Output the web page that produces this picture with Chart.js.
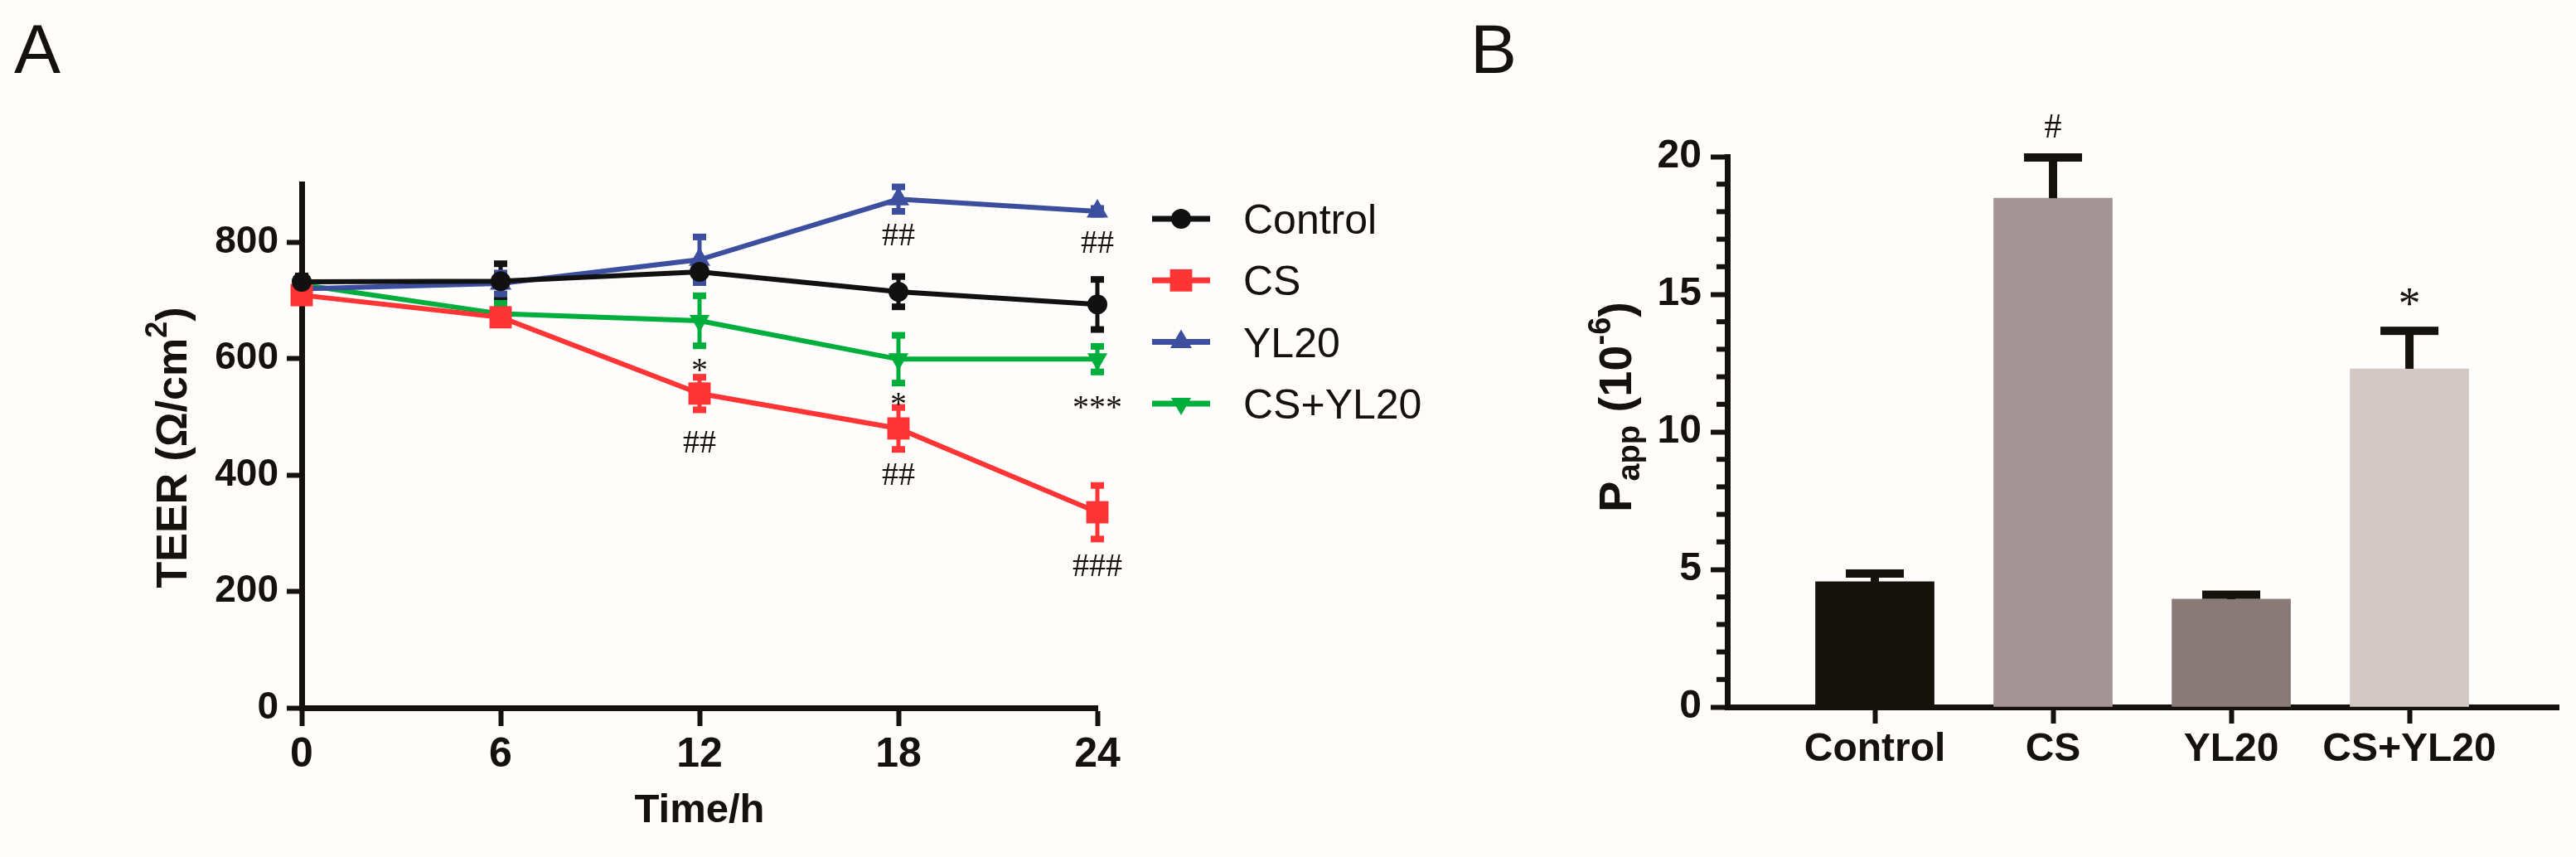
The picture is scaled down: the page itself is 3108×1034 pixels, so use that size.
<!DOCTYPE html>
<html>
<head>
<meta charset="utf-8">
<title>TEER and Papp</title>
<script src="https://cdn.jsdelivr.net/npm/chart.js@4.4.1/dist/chart.umd.min.js"></script>
<style>
  html, body { margin: 0; padding: 0; background: #fefdfc; }
  #wrap { position: relative; width: 3108px; height: 1034px; }
  canvas { position: absolute; top: 0; }
  #chartA { left: 0; }
  #chartB { left: 1700px; }
</style>
</head>
<body>
<div id="wrap">
  <canvas id="chartA" width="1760" height="1034"></canvas>
  <canvas id="chartB" width="1408" height="1034"></canvas>
</div>
<script>
// ---- panel A: TEER over time ----
const timeLabels = ['0', '6', '12', '18', '24'];
const seriesNames = ['Control', 'CS', 'YL20', 'CS+YL20'];
const controlTeer = [732, 733, 749, 715, 693];
const controlSem = [10, 30, 18, 26, 43];
const csTeer = [709, 671, 540, 480, 336];
const csSem = [8, 8, 28, 36, 46];
const yl20Teer = [720, 729, 770, 874, 853];
const yl20Sem = [6, 18, 39, 21, 5];
const csYl20Teer = [727, 677, 665, 599, 599];
const csYl20Sem = [8, 18, 43, 41, 22];
const teerTicks = [0, 200, 400, 600, 800];
const teerMax = 900;
// significance marks (time index, TEER value the mark sits at)
const marksA = [
  { x: 3, y: 813, text: '##' },
  { x: 4, y: 801, text: '##' },
  { x: 2, y: 589, text: '*' },
  { x: 3, y: 530, text: '*' },
  { x: 4, y: 525, text: '***' },
  { x: 2, y: 457, text: '##' },
  { x: 3, y: 401, text: '##' },
  { x: 4, y: 245, text: '###' }
];

// ---- panel B: Papp ----
const groups = ['Control', 'CS', 'YL20', 'CS+YL20'];
const papp = [4.55, 18.49, 3.92, 12.29];
const pappSem = [0.3, 1.48, 0.16, 1.38];
const pappTicks = [0, 5, 10, 15, 20];
const pappMinor = [1, 2, 3, 4, 6, 7, 8, 9, 11, 12, 13, 14, 16, 17, 18, 19];
const marksB = [
  { x: 1, y: 21.1, text: '#' },
  { x: 3, y: 14.9, text: '*' }
];

const INK = '#15110c';
const SANS = '"Liberation Sans", Arial, Helvetica, sans-serif';
const SERIF = '"Liberation Serif", "Times New Roman", serif';
Chart.defaults.font.family = SANS;
Chart.defaults.color = INK;

// fill text so the glyphs are vertically centred on cy
function textMid(ctx, str, x, cy) {
  const m = ctx.measureText(str);
  ctx.fillText(str, x, cy + (m.actualBoundingBoxAscent - m.actualBoundingBoxDescent) / 2);
}

// runs = [text, size, baseline shift]
function runsWidth(ctx, runs, weight) {
  let w = 0;
  runs.forEach(r => {
    ctx.font = weight + ' ' + r[1] + 'px ' + SANS;
    w += ctx.measureText(r[0]).width;
  });
  return w;
}
function drawRuns(ctx, runs, x, y, weight) {
  runs.forEach(r => {
    ctx.font = weight + ' ' + r[1] + 'px ' + SANS;
    ctx.fillText(r[0], x, y + r[2]);
    x += ctx.measureText(r[0]).width;
  });
}

function drawErrorBars(chart, opts) {
  const ctx = chart.ctx;
  const ys = chart.scales.y;
  ctx.save();
  chart.data.datasets.forEach((ds, i) => {
    const meta = chart.getDatasetMeta(i);
    const col = opts.color || ds.borderColor;
    ctx.strokeStyle = col;
    ctx.fillStyle = col;
    ctx.lineWidth = opts.lineWidth;
    meta.data.forEach((el, j) => {
      const x = el.x;
      const yTop = ys.getPixelForValue(ds.mean[j] + ds.sem[j]);
      const yBot = opts.upperOnly ? ys.getPixelForValue(ds.mean[j]) : ys.getPixelForValue(ds.mean[j] - ds.sem[j]);
      ctx.beginPath();
      ctx.moveTo(x, yBot);
      ctx.lineTo(x, yTop);
      ctx.stroke();
      ctx.fillRect(x - opts.capWidth / 2, yTop - opts.capThick / 2, opts.capWidth, opts.capThick);
      if (!opts.upperOnly) {
        ctx.fillRect(x - opts.capWidth / 2, yBot - opts.capThick / 2, opts.capWidth, opts.capThick);
      }
    });
  });
  ctx.restore();
}

const errorBars = {
  id: 'errorBars',
  beforeDatasetsDraw(chart, args, opts) { if (opts.behind) drawErrorBars(chart, opts); },
  afterDatasetsDraw(chart, args, opts) { if (!opts.behind) drawErrorBars(chart, opts); }
};

const panelA = {
  id: 'panelA',
  afterDraw(chart) {
    const { ctx, chartArea: area, scales } = chart;
    ctx.save();
    ctx.fillStyle = INK;
    ctx.textBaseline = 'alphabetic';
    ctx.textAlign = 'left';
    ctx.font = '84px ' + SANS;
    ctx.fillText('A', 17, 88);

    ctx.textAlign = 'center';
    ctx.font = 'bold 49px ' + SANS;
    textMid(ctx, 'Time/h', (area.left + area.right) / 2, area.bottom + 121);

    // y title with superscript
    const runs = [['TEER (Ω/cm', 52, 0], ['2', 36, -24], [')', 52, 0]];
    ctx.save();
    ctx.translate(area.left - 139, (area.top + area.bottom) / 2 + 2);
    ctx.rotate(-Math.PI / 2);
    ctx.textAlign = 'left';
    drawRuns(ctx, runs, -runsWidth(ctx, runs, 'bold') / 2, 0, 'bold');
    ctx.restore();

    // legend: line + marker like the plot
    chart.data.datasets.forEach((ds, i) => {
      const y = area.top + 42 + i * 74.3;
      const x0 = area.right + 66, x1 = area.right + 136;
      ctx.strokeStyle = ds.borderColor;
      ctx.lineWidth = 7;
      ctx.beginPath();
      ctx.moveTo(x0, y);
      ctx.lineTo(x1, y);
      ctx.stroke();
      ctx.fillStyle = ds.borderColor;
      Chart.helpers.drawPoint(ctx, {
        pointStyle: ds.pointStyle, radius: ds.pointRadius,
        rotation: ds.pointRotation, borderWidth: 0
      }, (x0 + x1) / 2, y);
      ctx.fillStyle = INK;
      ctx.textAlign = 'left';
      ctx.font = '50px ' + SANS;
      ctx.fillText(ds.label, area.right + 176, y + 18);
    });

    // significance marks
    ctx.fillStyle = INK;
    ctx.textAlign = 'center';
    ctx.font = '40px ' + SERIF;
    marksA.forEach(m => {
      textMid(ctx, m.text, scales.x.getPixelForValue(m.x), scales.y.getPixelForValue(m.y));
    });
    ctx.restore();
  }
};

const markSizeB = { '#': 42, '*': 54 };

const panelB = {
  id: 'panelB',
  afterDraw(chart) {
    const { ctx, chartArea: area, scales } = chart;
    ctx.save();
    ctx.fillStyle = INK;
    ctx.textBaseline = 'alphabetic';
    ctx.textAlign = 'left';
    ctx.font = '84px ' + SANS;
    ctx.fillText('B', 74, 88);

    // y title: P_app (10^-6)
    const runs = [['P', 56, 0], ['app', 38, 10], [' (10', 56, 0], ['-6', 38, -25], [')', 56, 0]];
    ctx.save();
    ctx.translate(area.left - 116, area.top + 302);
    ctx.rotate(-Math.PI / 2);
    drawRuns(ctx, runs, -runsWidth(ctx, runs, 'bold') / 2, 0, 'bold');
    ctx.restore();

    // minor ticks on y
    ctx.strokeStyle = INK;
    ctx.lineWidth = 6;
    pappMinor.forEach(v => {
      const y = scales.y.getPixelForValue(v);
      ctx.beginPath();
      ctx.moveTo(area.left - 13, y);
      ctx.lineTo(area.left, y);
      ctx.stroke();
    });

    ctx.textAlign = 'center';
    marksB.forEach(m => {
      ctx.font = markSizeB[m.text] + 'px ' + SERIF;
      textMid(ctx, m.text, scales.x.getPixelForValue(m.x), scales.y.getPixelForValue(m.y));
    });
    ctx.restore();
  }
};

// ---- chart A ----
const styleA = [
  { color: '#111111', pointStyle: 'circle', radius: 12, rotation: 0 },
  { color: '#ff3434', pointStyle: 'rect', radius: 19, rotation: 0 },
  { color: '#3c4f9e', pointStyle: 'triangle', radius: 15, rotation: 0 },
  { color: '#00ae3c', pointStyle: 'triangle', radius: 14, rotation: 180 }
];
const meansA = [controlTeer, csTeer, yl20Teer, csYl20Teer];
const semsA = [controlSem, csSem, yl20Sem, csYl20Sem];

const datasetsA = seriesNames.map((name, i) => ({
  label: name,
  data: meansA[i],
  mean: meansA[i],
  sem: semsA[i],
  borderColor: styleA[i].color,
  backgroundColor: styleA[i].color,
  borderWidth: 6,
  tension: 0,
  pointStyle: styleA[i].pointStyle,
  pointRadius: styleA[i].radius,
  pointHoverRadius: styleA[i].radius,
  pointRotation: styleA[i].rotation,
  pointBorderWidth: 0,
  pointBackgroundColor: styleA[i].color
}));

const axisGrid = len => ({ drawOnChartArea: false, tickLength: len, tickWidth: 6, tickColor: INK, offset: false });
const axisBorder = { width: 7, color: INK };

new Chart(document.getElementById('chartA'), {
  type: 'line',
  data: { labels: timeLabels, datasets: datasetsA },
  options: {
    responsive: false,
    animation: false,
    events: [],
    layout: { padding: { left: 0, right: 436, top: 222, bottom: 0 } },
    plugins: {
      legend: { display: false },
      tooltip: { enabled: false },
      errorBars: { behind: true, lineWidth: 5, capWidth: 16, capThick: 8 }
    },
    scales: {
      x: {
        type: 'category',
        offset: false,
        afterFit: s => { s.height = 180; },
        grid: axisGrid(22),
        border: axisBorder,
        ticks: { font: { size: 50, weight: 'bold' }, color: INK, padding: 5, maxRotation: 0, autoSkip: false }
      },
      y: {
        min: 0,
        max: teerMax,
        afterFit: s => { s.width = 364; },
        afterBuildTicks: s => { s.ticks = teerTicks.map(v => ({ value: v })); },
        grid: axisGrid(18),
        border: axisBorder,
        ticks: { font: { size: 46, weight: 'bold' }, color: INK, padding: 10 }
      }
    }
  },
  plugins: [errorBars, panelA]
});

// ---- chart B ----
const barColors = ['#15110b', '#a39595', '#877a77', '#d4c8c4'];

new Chart(document.getElementById('chartB'), {
  type: 'bar',
  data: {
    datasets: [{
      label: 'Papp',
      data: papp.map((v, i) => ({ x: i, y: v })),
      mean: papp,
      sem: pappSem,
      backgroundColor: barColors,
      borderWidth: 0,
      barThickness: 143
    }]
  },
  options: {
    responsive: false,
    animation: false,
    events: [],
    layout: { padding: { left: 0, right: 21, top: 189, bottom: 0 } },
    plugins: {
      legend: { display: false },
      tooltip: { enabled: false },
      errorBars: { behind: false, upperOnly: true, color: INK, lineWidth: 10, capWidth: 70, capThick: 10 }
    },
    scales: {
      x: {
        type: 'linear',
        min: -0.828,
        max: 3.837,
        offset: false,
        afterFit: s => { s.height = 181; },
        afterBuildTicks: s => { s.ticks = groups.map((g, i) => ({ value: i })); },
        grid: axisGrid(20),
        border: axisBorder,
        ticks: { callback: v => groups[v], font: { size: 48, weight: 'bold' }, color: INK, padding: 3, maxRotation: 0, autoSkip: false }
      },
      y: {
        min: 0,
        max: 20,
        afterFit: s => { s.width = 384; },
        afterBuildTicks: s => { s.ticks = pappTicks.map(v => ({ value: v })); },
        grid: axisGrid(20),
        border: axisBorder,
        ticks: { font: { size: 48, weight: 'bold' }, color: INK, padding: 11 }
      }
    }
  },
  plugins: [errorBars, panelB]
});
</script>
</body>
</html>
